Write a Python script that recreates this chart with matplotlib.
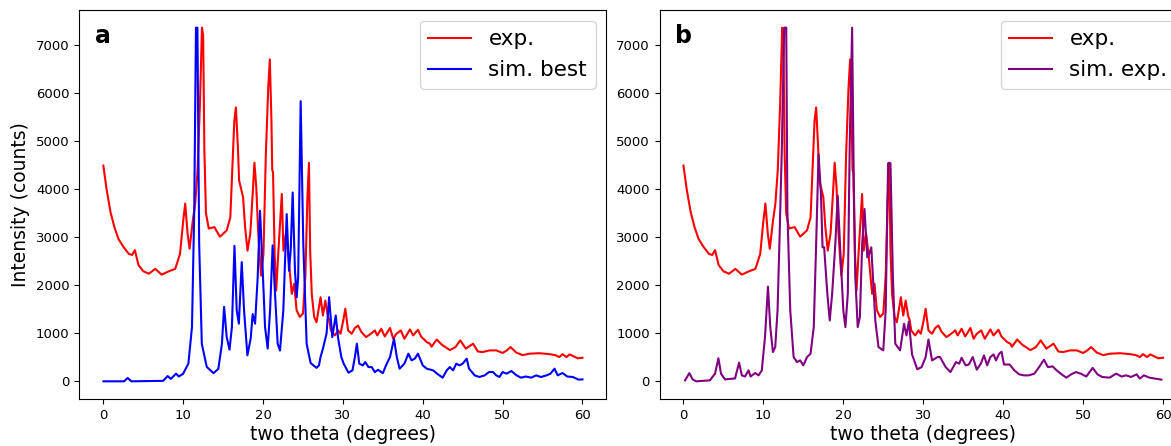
import matplotlib
matplotlib.use("Agg")
import matplotlib.pyplot as plt

# Experimental powder pattern (two theta in degrees, intensity in counts)
exp_theta = [0.0, 0.4, 0.9, 1.4, 1.9, 2.5, 3.2, 3.6, 3.95, 4.4, 5.0, 5.7, 6.5, 7.3, 8.2, 9.0,
             9.6, 10.0, 10.25, 10.55, 10.8, 11.2, 11.5, 11.8, 12.1, 12.35, 12.5, 12.65, 12.85,
             13.2, 13.9, 14.6, 15.45, 15.9, 16.2, 16.4, 16.6, 16.85, 17.0, 17.5, 17.75, 18.05,
             18.4, 18.7, 18.92, 19.15, 19.4, 19.75, 20.05, 20.35, 20.65, 20.85, 21.05, 21.15,
             21.25, 21.45, 21.65, 21.9, 22.35, 22.55, 22.85, 23.15, 23.6, 23.9, 24.2, 24.6,
             25.0, 25.3, 25.55, 25.75, 25.9, 26.1, 26.4, 26.7, 27.2, 27.5, 27.8, 28.1, 28.3,
             28.5, 28.8, 29.0, 29.4, 29.7, 30.05, 30.3, 30.65, 31.1, 31.5, 31.9, 32.3, 32.9,
             33.5, 34.0, 34.3, 34.8, 35.25, 35.9, 36.3, 36.7, 37.25, 37.7, 38.4, 38.8, 39.4,
             39.8, 40.5, 40.9, 41.1, 41.75, 42.4, 43.4, 44.1, 44.7, 45.4, 46.3, 46.9, 47.5,
             48.4, 49.2, 50.0, 50.5, 51.0, 51.7, 52.5, 53.4, 54.6, 55.9, 56.6, 57.1, 57.5,
             58.0, 58.4, 58.9, 59.4, 60.0]
exp_counts = [4490, 4000, 3520, 3200, 2960, 2800, 2650, 2630, 2730, 2420, 2290, 2240, 2340, 2220,
              2290, 2340, 2650, 3340, 3700, 3070, 2760, 3340, 3700, 4400, 5800, 7360, 7200, 4800,
              3500, 3180, 3210, 3010, 3140, 3410, 4590, 5420, 5700, 4870, 4180, 3830, 3210, 2720,
              3070, 3900, 4550, 4040, 3070, 2200, 2650, 4730, 6110, 6700, 5420, 4400, 4350, 2650,
              1890, 2650, 3900, 2720, 3070, 2650, 1820, 2030, 1480, 1340, 1410, 2200, 3800, 4550,
              2720, 1820, 1340, 1230, 1750, 1370, 1680, 1370, 1270, 1060, 990, 955, 1060, 990,
              1270, 1510, 1060, 990, 1110, 1160, 1030, 920, 990, 1060, 955, 1094, 934, 1110, 886,
              990, 1059, 886, 1080, 955, 1073, 930, 817, 783, 720, 870, 760, 650, 713, 852, 680,
              783, 620, 609, 644, 644, 590, 640, 713, 600, 545, 575, 585, 565, 545, 505, 565, 505,
              560, 520, 480, 490]

# Simulated pattern, best structure
best_theta = [0.0, 2.6, 3.05, 3.5, 7.5, 8.05, 8.45, 9.1, 9.45, 10.0, 10.65, 11.1, 11.38, 11.6,
              11.78, 12.0, 12.33, 12.95, 13.8, 14.4, 14.85, 15.12, 15.45, 15.8, 16.1, 16.42,
              16.7, 16.97, 17.33, 17.62, 18.04, 18.45, 18.7, 19.0, 19.33, 19.62, 19.96, 20.25,
              20.58, 20.88, 21.2, 21.5, 21.83, 22.12, 22.54, 22.96, 23.25, 23.46, 23.71, 24.0,
              24.21, 24.4, 24.71, 25.04, 25.3, 25.46, 25.96, 26.7, 27.0, 27.2, 27.5, 27.96,
              28.27, 28.67, 29.1, 29.4, 29.8, 30.1, 30.7, 31.2, 31.5, 31.75, 32.05, 32.5, 32.8,
              33.2, 33.6, 34.0, 34.4, 35.0, 35.4, 35.9, 36.4, 36.75, 37.1, 37.7, 38.2, 38.6,
              39.0, 39.4, 40.0, 40.5, 41.3, 41.9, 42.5, 43.0, 43.4, 43.8, 44.2, 44.6, 45.0,
              45.5, 45.8, 46.5, 47.1, 47.75, 48.3, 48.8, 49.2, 49.6, 50.0, 50.5, 51.1, 51.75,
              52.3, 52.9, 53.6, 54.2, 54.8, 55.5, 56.0, 56.5, 56.9, 57.5, 58.1, 58.8, 59.5, 60.0]
best_counts = [0, 0, 70, 0, 10, 110, 50, 160, 100, 160, 370, 1130, 3550, 7360, 7360, 2860, 780,
               300, 170, 260, 780, 1550, 920, 660, 1130, 2820, 1480, 1200, 2480, 1480, 540, 890,
               1400, 1200, 2170, 3550, 2300, 1130, 680, 1480, 2830, 1820, 780, 640, 1480, 3480,
               2300, 2720, 3930, 2300, 1750, 2170, 5830, 2860, 1600, 780, 380, 280, 330, 505, 680,
               1000, 1750, 920, 1370, 900, 505, 367, 180, 228, 505, 783, 367, 332, 400, 297, 297,
               193, 240, 170, 332, 505, 886, 505, 263, 367, 575, 436, 471, 575, 332, 263, 228,
               145, 76, 228, 297, 228, 367, 332, 367, 471, 263, 124, 90, 124, 193, 193, 124, 90,
               193, 159, 214, 124, 76, 100, 76, 124, 90, 124, 159, 263, 124, 173, 100, 90, 35, 40]

# Simulated pattern, experimental structure
sim_theta = [0.2, 0.73, 1.15, 1.6, 3.3, 3.95, 4.37, 4.7, 5.2, 6.45, 6.96, 7.3, 7.7, 8.14, 8.4,
             8.97, 9.39, 9.8, 10.2, 10.57, 10.86, 11.19, 11.48, 11.77, 12.0, 12.3, 12.6, 12.86,
             13.0, 13.36, 13.78, 14.2, 14.6, 15.0, 15.46, 15.9, 16.3, 16.6, 16.9, 17.2, 17.4,
             17.6, 18.0, 18.3, 18.6, 19.0, 19.3, 19.6, 20.0, 20.26, 20.56, 20.8, 21.1, 21.3,
             21.5, 21.8, 22.07, 22.36, 22.65, 23.0, 23.1, 23.5, 23.7, 24.0, 24.4, 25.0, 25.3,
             25.6, 25.9, 26.2, 26.5, 27.1, 27.6, 27.9, 28.2, 28.6, 29.25, 29.8, 30.3, 30.65,
             31.1, 31.8, 32.1, 32.8, 33.4, 34.1, 34.5, 34.8, 35.3, 35.7, 36.2, 36.7, 37.2, 37.6,
             38.0, 38.4, 38.8, 39.1, 39.5, 39.8, 40.1, 40.8, 41.4, 42.0, 42.6, 43.2, 43.9, 44.5,
             45.1, 45.6, 46.2, 46.6, 47.2, 47.9, 48.5, 49.1, 49.7, 50.4, 51.2, 51.8, 52.4, 53.3,
             54.15, 54.8, 55.4, 56.0, 56.7, 57.1, 57.6, 58.3, 59.1, 59.8]
sim_counts = [20, 170, 40, 0, 20, 159, 480, 159, 40, 60, 390, 124, 100, 228, 100, 173, 124, 228,
              921, 1970, 1128, 609, 713, 1475, 2860, 4800, 7360, 7360, 3552, 1475, 505, 401, 436,
              332, 505, 575, 1128, 2860, 4729, 3898, 2790, 2790, 1821, 1267, 1821, 2860, 3863,
              2790, 1475, 1128, 1821, 4935, 7360, 4245, 2167, 1128, 1336, 2860, 3587, 2582, 2582,
              2790, 2167, 1267, 713, 644, 1475, 4540, 4540, 2167, 783, 644, 1198, 955, 1240, 560,
              250, 297, 505, 870, 436, 505, 505, 297, 193, 400, 367, 490, 332, 350, 505, 242, 367,
              540, 332, 505, 560, 436, 575, 615, 350, 350, 228, 145, 124, 124, 159, 297, 450, 297,
              310, 242, 159, 76, 145, 193, 160, 100, 280, 145, 90, 76, 160, 100, 124, 90, 145, 55,
              124, 76, 55, 35]

x_ticks = [0, 10, 20, 30, 40, 50, 60]
y_ticks = [0, 1000, 2000, 3000, 4000, 5000, 6000, 7000]

W, H = 1171, 446
fig = plt.figure(figsize=(W / 100, H / 100), dpi=100)

bottom = 1 - 399 / H
height = 389 / H
ax_a = fig.add_axes([79.4 / W, bottom, 527 / W, height])
ax_b = fig.add_axes([659.5 / W, bottom, 527.5 / W, height])

panels = [
    (ax_a, "a", best_theta, best_counts, "blue", "sim. best"),
    (ax_b, "b", sim_theta, sim_counts, "purple", "sim. exp."),
]

for ax, tag, th, cnt, col, lab in panels:
    ax.plot(exp_theta, exp_counts, color="red", lw=1.5, label="exp.")
    ax.plot(th, cnt, color=col, lw=1.5, label=lab)
    ax.set_xticks(x_ticks)
    ax.set_yticks(y_ticks)
    ax.tick_params(labelsize=9.5)
    ax.set_xlabel("two theta (degrees)", fontsize=13.5, labelpad=2)
    ax.legend(loc="upper right", fontsize=15.5, handlelength=2.0)
    ax.text(0.045, 0.933, tag, transform=ax.transAxes, fontsize=17,
            fontweight="bold", ha="center", va="center")

ax_a.set_ylabel("Intensity (counts)", fontsize=13.5)

fig.savefig("out.png", dpi=100)
